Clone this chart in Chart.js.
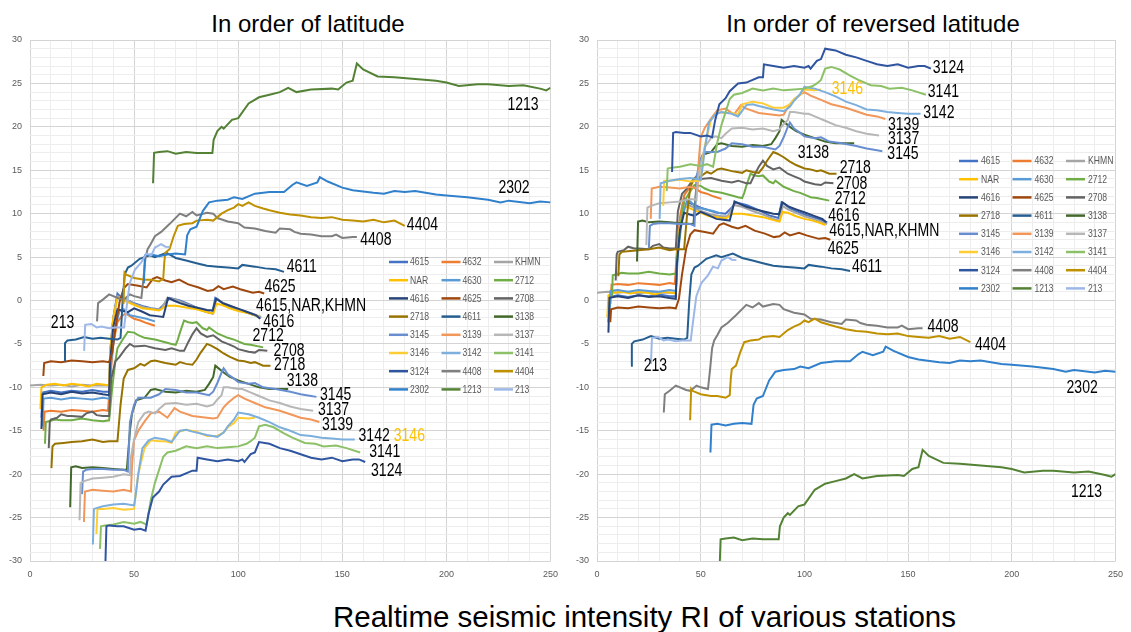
<!DOCTYPE html>
<html><head><meta charset="utf-8">
<script src="https://cdn.jsdelivr.net/npm/chart.js@4.4.1/dist/chart.umd.min.js"></script>
<style>
html,body{margin:0;padding:0;background:#fff;width:1131px;height:632px;overflow:hidden;position:relative;}
canvas{position:absolute;top:0;}
#c1{left:0;}
#c2{left:566px;}
.ttl{position:absolute;font-family:"Liberation Sans",Arial,sans-serif;color:#000;white-space:nowrap;}
</style></head><body>
<div class="ttl" style="left:158px;top:12px;width:300px;text-align:center;font-size:24px;line-height:24px;">In order of latitude</div>
<div class="ttl" style="left:673px;top:12px;width:400px;text-align:center;font-size:24px;line-height:24px;">In order of reversed latitude</div>
<div class="ttl" style="left:333px;top:602px;font-size:29.5px;line-height:29px;">Realtime seismic intensity RI of various stations</div>
<canvas id="c1" width="566" height="590"></canvas>
<canvas id="c2" width="565" height="590"></canvas>
<script>
// ---- station names (legend order) ----
const stations = ['4615','4632','KHMN','NAR','4630','2712','4616','4625','2708','2718','4611','3138','3145','3139','3137','3146','3142','3141','3124','4408','4404','2302','1213','213'];

// ---- time (x) values and RI values: L = latitude order chart, R = reversed latitude chart ----
const t4615 = [5.5,6,10,15,20,25,30,35,38,38.5,40,42,44,47,50,55,58,62,65,67,72,78,83,87.5,89,90.5,93,97,100,104,108,111];
const L4615 = [-13.5,-10.6,-10.4,-10.6,-10.4,-10.5,-10.3,-10.5,-10.5,-6,-2,0.8,0.3,0,-0.3,-0.7,-0.9,-1.0,-0.3,0.3,0.0,-0.6,-1.2,-1.5,0.3,0.1,-0.4,-0.8,-1.1,-1.4,-1.7,-2.0];
const R4615 = [-2.5,0.4,0.6,0.4,0.6,0.5,0.7,0.5,0.5,5.0,9.0,11.8,11.3,11.0,10.7,10.3,10.1,10.0,10.7,11.3,11.0,10.4,9.8,9.5,11.3,11.1,10.6,10.2,9.9,9.6,9.3,9.0];

const t4632 = [6.5,7,10,15,20,25,30,35,37.5,38.5,40,42,44,46,48,50,53,56,60];
const L4632 = [-15.0,-12.8,-12.7,-12.8,-12.6,-12.7,-12.8,-12.6,-12.7,-9.0,-5.0,-2.5,-1.8,-1.5,-1.8,-2.1,-2.3,-2.6,-2.9];
const R4632 = [-0.4,1.8,1.9,1.8,2.0,1.9,1.8,2.0,1.9,5.6,9.6,12.1,12.8,13.1,12.8,12.5,12.3,12.0,11.7];

const tKHMN = [0,5,10,15,20,25,30,35,38,38.5,40,42,44,47,50,55,60,63,66,70,75,80,85,88,89.5,92,96,100,104,108,111];
const LKHMN = [-9.8,-9.7,-9.8,-9.7,-9.9,-9.7,-9.8,-9.8,-9.8,-6.0,-2.0,0.5,0.3,0.0,-0.4,-0.8,-1.0,-1.0,0.3,0.1,-0.4,-0.8,-1.3,-1.5,0.2,-0.2,-0.6,-1.0,-1.3,-1.6,-1.9];
const RKHMN = [0.9,1.0,0.9,1.0,0.8,1.0,0.9,0.9,0.9,4.7,8.7,11.2,11.0,10.7,10.3,9.9,9.7,9.7,11.0,10.8,10.3,9.9,9.4,9.2,10.9,10.5,10.1,9.7,9.4,9.1,8.8];

const tNAR = [5,5.5,8,12,16,20,24,28,32,36,38,38.5,40,42,44,46,48,51,54,58,62,65.5,70,75,80,86,88,89.5,92,96,100,104,108,110];
const LNAR = [-12.5,-10.0,-9.7,-9.6,-9.8,-9.6,-9.7,-9.9,-9.6,-9.7,-9.8,-6.0,-2.0,0.3,0.1,-0.1,-0.3,-0.6,-0.9,-1.0,-1.15,-0.6,-0.6,-0.8,-1.0,-1.4,-1.5,-0.4,-0.5,-0.9,-1.2,-1.4,-1.7,-1.9];
const RNAR = [-1.9,0.6,0.9,1.0,0.8,1.0,0.9,0.7,1.0,0.9,0.8,4.6,8.6,10.9,10.7,10.5,10.3,10.0,9.7,9.6,9.45,10.0,10.0,9.8,9.6,9.2,9.1,10.2,10.1,9.7,9.4,9.2,8.9,8.7];

const t4630 = [6,6.5,10,15,20,25,30,35,38,39,41,43,45,48,52,56,60];
const L4630 = [-14.5,-11.3,-11.2,-11.4,-11.2,-11.3,-11.4,-11.2,-11.3,-7.0,-3.0,-1.2,-1.0,-1.7,-1.9,-2.1,-2.4];
const R4630 = [-2.1,1.1,1.2,1.0,1.2,1.1,1.0,1.2,1.1,5.4,9.4,11.2,11.4,10.7,10.5,10.3,10.0];

const t2712 = [7.2,7.6,9,12,15,20,25,30,35,38,39.5,41,42,44,47,50,52,55,60,65,68,70,71,72,74,76,78,80,83,85,86,90,95,98,100,103,106,112];
const L2712 = [-16.5,-14.0,-13.9,-13.7,-13.8,-13.8,-13.6,-13.8,-13.9,-13.8,-10.0,-7.0,-5.5,-4.7,-3.6,-3.7,-4.0,-4.3,-4.5,-4.8,-5.0,-5.1,-4.5,-3.7,-2.3,-2.5,-2.6,-2.5,-3.2,-3.4,-3.1,-3.8,-4.3,-4.5,-4.7,-5.0,-5.1,-5.4];
const R2712 = [0.4,2.9,3.0,3.2,3.1,3.1,3.3,3.1,3.0,3.1,6.9,9.9,11.4,12.2,13.3,13.2,12.9,12.6,12.4,12.1,11.9,11.8,12.4,13.2,14.6,14.4,14.3,14.4,13.7,13.5,13.8,13.1,12.6,12.4,12.2,11.9,11.8,11.5];

const t4616 = [5.5,6,10,15,20,25,30,35,38,38.5,40,42,44.7,47,50,54,57.5,61,64,66.3,69,72,76,81.5,85,87.8,89.4,92.6,96,100.6,104,108.6,110.5];
const L4616 = [-14.8,-10.8,-10.6,-10.8,-10.5,-10.7,-10.6,-10.8,-10.9,-7.0,-3.0,-1.0,-1.2,-1.35,-0.9,-1.3,-1.7,-1.8,-1.9,0.3,0.0,-0.3,-0.6,-0.9,-1.1,-1.15,0.2,-0.3,-0.6,-1.0,-1.3,-1.7,-2.1];
const R4616 = [-3.7,0.3,0.5,0.3,0.6,0.4,0.5,0.3,0.2,4.1,8.1,10.1,9.9,9.75,10.2,9.8,9.4,9.3,9.2,11.4,11.1,10.8,10.5,10.2,10.0,9.95,11.3,10.8,10.5,10.1,9.8,9.4,9.0];

const t4625 = [6.4,6.8,10,15,20,25,30,35,38,39.5,41,43,45,47,52,56,59,61,65,68,71.6,76,81,85.3,88,90.5,93,97.4,101,104,107,110,112.5];
const L4625 = [-8.7,-7.2,-7.0,-7.1,-6.9,-7.0,-7.1,-7.0,-7.1,-6.0,-3.2,-0.2,1.4,1.9,1.7,1.5,2.5,2.7,2.3,2.1,2.4,1.85,1.5,1.1,1.2,1.65,1.3,1.6,1.3,1.1,0.9,1.0,0.8];
const R4625 = [-2.5,-1.0,-0.8,-0.9,-0.7,-0.8,-0.9,-0.8,-0.9,0.2,3.0,6.0,7.6,8.1,7.9,7.7,8.7,8.9,8.5,8.3,8.6,8.05,7.7,7.3,7.4,7.85,7.5,7.8,7.5,7.3,7.1,7.2,7.0];

const t2708 = [9,9.5,10,13,15,18,20,25,27,30,32,35,38,39,41,43,46,48,50,55,60,65,68,72,74,76,78,80,82,85,88,92,95,98,100,105,108,110,114];
const L2708 = [-17.0,-14.0,-13.7,-13.5,-13.1,-13.3,-13.3,-13.4,-13.0,-12.8,-13.2,-13.3,-13.3,-9.0,-7.0,-6.5,-5.5,-5.0,-5.3,-5.2,-5.5,-5.7,-5.5,-5.8,-5.8,-4.8,-3.9,-3.2,-3.8,-4.2,-4.0,-4.7,-5.0,-5.3,-5.6,-5.9,-6.0,-5.7,-5.8];
const R2708 = [2.3,5.3,5.6,5.8,6.2,6.0,6.0,5.9,6.3,6.5,6.1,6.0,6.0,10.3,12.3,12.8,13.8,14.3,14.0,14.1,13.8,13.6,13.8,13.5,13.5,14.5,15.4,16.1,15.5,15.1,15.3,14.6,14.3,14.0,13.7,13.4,13.3,13.6,13.5];

const t2718 = [10.3,10.8,12,16,20,25,30,35,38,42,43.5,45,47,50,53,55,58,60,65,70,72,75,78,80,82,85,87,90,93,96,100,103,106,108,112,115.5];
const L2718 = [-19.3,-16.8,-16.5,-16.4,-16.3,-16.2,-16.0,-16.3,-16.2,-16.2,-12.0,-9.0,-8.0,-7.8,-7.3,-7.5,-7.0,-6.9,-7.2,-7.4,-7.1,-7.3,-7.4,-6.8,-6.0,-5.0,-5.2,-5.6,-6.1,-6.5,-6.9,-7.0,-7.2,-7.1,-7.5,-7.5];
const R2718 = [2.8,5.3,5.6,5.7,5.8,5.9,6.1,5.8,5.9,5.9,10.1,13.1,14.1,14.3,14.8,14.6,15.1,15.2,14.9,14.7,15.0,14.8,14.7,15.3,16.1,17.1,16.9,16.5,16.0,15.6,15.2,15.1,14.9,15.0,14.6,14.6];

const t4611 = [16.4,16.8,18,22,26,30,34,38,42,43.5,44.5,45.5,47,48.7,52.7,57.5,60,65.5,70,75,80,85,90,95,100,102,108,113,118,122];
const L4611 = [-6.9,-4.9,-4.6,-4.5,-4.2,-4.4,-4.3,-4.4,-4.5,-4.3,0.0,3.0,3.8,4.0,4.8,5.2,5.0,5.5,4.9,4.6,4.3,4.0,3.9,3.8,3.7,4.1,3.9,3.7,3.6,3.3];
const R4611 = [-7.5,-5.0,-4.7,-4.5,-4.1,-4.4,-4.3,-4.4,-4.5,-4.3,0.0,3.0,3.8,4.0,4.8,5.2,5.0,5.4,4.9,4.6,4.3,4.0,3.9,3.8,3.7,4.1,3.9,3.7,3.6,3.4];

const t3138 = [19.3,19.8,22,25,30,35,40,45,46.5,48,49,51,55,58,60,65,70,75,80,84,86,88,89,90,93,96,100,105,110,115,120,124];
const L3138 = [-23.8,-19.2,-19.1,-19.3,-19.2,-19.3,-19.4,-19.5,-19.5,-15.0,-13.0,-11.5,-11.2,-10.3,-10.2,-10.5,-10.6,-10.4,-10.5,-10.3,-9.6,-8.8,-7.5,-7.7,-8.3,-8.8,-9.2,-9.6,-10.0,-10.2,-10.2,-10.2];
const R3138 = [4.5,9.1,9.2,9.0,9.1,9.0,8.9,8.8,8.8,13.3,15.3,16.8,17.1,18.0,18.1,17.8,17.7,17.9,17.8,18.0,18.7,19.5,20.8,20.6,20.0,19.5,19.1,18.7,18.3,18.1,18.1,18.1];

const t3145 = [25,25.5,27,30,35,40,45,47,47.5,48,50,52,55,58,62,65,70,75,80,86,88,90,92,93,95,98,100,105,108,112,118,125,130,135,137.6];
const L3145 = [-22.3,-19.7,-19.5,-19.4,-19.4,-19.5,-19.5,-19.7,-17.0,-14.0,-12.0,-11.2,-11.2,-11.2,-10.8,-10.2,-10.3,-10.6,-10.6,-10.9,-10.5,-9.5,-8.3,-7.8,-8.5,-9.0,-9.4,-9.6,-9.5,-10.0,-10.2,-10.5,-10.8,-11.0,-11.1];
const R3145 = [6.0,8.6,8.8,8.9,8.9,8.8,8.8,8.6,11.3,14.3,16.3,17.1,17.1,17.1,17.5,18.1,18.0,17.7,17.7,17.4,17.8,18.8,20.0,20.5,19.8,19.3,18.9,18.7,18.8,18.3,18.1,17.8,17.5,17.3,17.2];

const t3139 = [25.9,26.4,30,35,40,45,48.5,49,50,52,55.4,58,62,66,69.4,72,78,85,88,90,93,95,98,100,103,108,113,120,125,130,135,139];
const L3139 = [-25.5,-22.0,-21.8,-21.9,-22.0,-21.8,-22.0,-19.0,-16.1,-15.0,-13.8,-13.0,-12.8,-13.5,-12.4,-12.8,-13.3,-13.5,-13.6,-13.5,-12.3,-11.8,-11.2,-10.9,-11.3,-11.8,-12.3,-12.7,-13.1,-13.5,-13.7,-14.0];
const R3139 = [9.4,12.9,13.1,13.0,12.9,13.1,12.9,15.9,18.8,19.9,21.1,21.9,22.1,21.4,22.5,22.1,21.6,21.4,21.3,21.4,22.6,23.1,23.7,24.0,23.6,23.1,22.6,22.2,21.8,21.4,21.2,20.9];

const t3137 = [23.8,24.3,26,30,35,40,45,48,48.5,50,52,55,57,60,62,65,70,75,80,85,88,90,92,93,95,100,102,105,110,115,120,125,130,136];
const L3137 = [-25.3,-21.0,-20.8,-20.5,-20.4,-20.3,-20.0,-20.1,-18.0,-16.0,-14.0,-13.0,-12.8,-13.0,-12.5,-11.9,-11.8,-12.0,-11.9,-12.2,-12.0,-11.4,-10.9,-10.0,-10.0,-10.2,-10.2,-10.5,-11.0,-11.5,-11.8,-12.2,-12.5,-12.7];
const R3137 = [6.4,10.7,10.9,11.2,11.3,11.4,11.7,11.6,13.7,15.7,17.7,18.7,18.9,18.7,19.2,19.8,19.9,19.7,19.8,19.5,19.7,20.3,20.8,21.7,21.7,21.5,21.5,21.2,20.7,20.2,19.9,19.5,19.2,19.0];

const t3146 = [31.9,32.4,35,40,45,50,50.9,52,55,58,62,65,68,70,75,80,85,90,93,95,98,100,105,108];
const L3146 = [-26.9,-24.0,-24.0,-23.9,-24.1,-24.0,-22.0,-20.0,-17.0,-16.1,-16.2,-16.2,-16.4,-15.2,-14.9,-15.1,-15.6,-15.6,-15.2,-14.6,-14.1,-13.5,-13.6,-13.5];
const R3146 = [10.9,13.8,13.8,13.9,13.7,13.8,15.8,17.8,20.8,21.7,21.6,21.6,21.4,22.6,22.9,22.7,22.2,22.2,22.6,23.2,23.7,24.3,24.2,24.3];

const t3142 = [30.2,30.7,35,40,45,50,51,52,54,57,60,65,68,72,75,78,85,90,93,95,98,100,105,110,115,120,125,130,135,140,145,150,156];
const L3142 = [-28.1,-24.0,-23.7,-23.5,-23.4,-23.6,-22.0,-20.0,-17.0,-16.1,-15.8,-16.0,-16.3,-15.0,-14.9,-15.1,-15.5,-15.7,-15.2,-14.5,-13.7,-12.9,-13.1,-13.5,-14.0,-14.6,-15.0,-15.5,-15.6,-15.8,-15.9,-16.0,-16.0];
const R3142 = [9.4,13.5,13.8,14.0,14.1,13.9,15.5,17.5,20.5,21.4,21.7,21.5,21.2,22.5,22.6,22.4,22.0,21.8,22.3,23.0,23.8,24.6,24.4,24.0,23.5,22.9,22.5,22.0,21.9,21.7,21.6,21.5,21.5];

const t3141 = [33.6,34.1,36,40,45,50,53,56,58,60,62,64,66,70,75,80,85,90,95,100,104,106,108,110,113,117,122,126,132,137,141,147,152,158.6];
const L3141 = [-28.6,-26.0,-25.9,-25.8,-25.5,-25.7,-25.5,-25.8,-23.0,-21.0,-19.5,-18.0,-17.5,-17.3,-16.8,-17.0,-16.8,-17.0,-16.9,-16.8,-16.5,-16.2,-15.8,-14.5,-14.3,-14.6,-15.3,-15.8,-16.4,-16.5,-16.8,-16.7,-17.0,-17.5];
const R3141 = [12.6,15.2,15.3,15.4,15.7,15.5,15.7,15.4,18.2,20.2,21.7,23.2,23.7,23.9,24.4,24.2,24.4,24.2,24.3,24.4,24.7,25.0,25.4,26.7,26.9,26.6,25.9,25.4,24.8,24.7,24.4,24.5,24.2,23.7];

const t3124 = [36.2,36.7,38,42,45,50,53,55.5,57,59,62,64,68,72,78,80,80.5,85,90,95,100,102,103,106,108,110,115,120,125,130,135,140,145,150,155,158,161];
const L3124 = [-30.5,-26.0,-25.9,-26.0,-26.0,-26.4,-26.3,-26.5,-24.5,-22.7,-22.0,-21.2,-20.3,-20.2,-19.6,-19.6,-18.1,-18.3,-18.5,-18.3,-18.5,-18.3,-18.6,-17.7,-17.5,-16.3,-16.5,-17.0,-17.3,-17.7,-18.1,-18.3,-18.1,-18.5,-18.3,-18.3,-18.6];
const R3124 = [14.8,19.3,19.4,19.3,19.3,18.9,19.0,18.8,20.8,22.6,23.3,24.1,25.0,25.1,25.7,25.7,27.2,27.0,26.8,27.0,26.8,27.0,26.7,27.6,27.8,29.0,28.8,28.3,28.0,27.6,27.2,27.0,27.2,26.8,27.0,27.0,26.7];

const t4408 = [32.2,32.7,35,38,43,45,48,50,53.5,54.5,55.5,56.5,58,60,63,67,72,75,78,80,85,88,90,95,100,103,108,113,118,120,125,127,130,135,140,145,147,150,155,157];
const L4408 = [-2.4,-0.3,0.1,0.7,0.2,0.1,0.7,0.5,0.3,2.5,5.0,5.9,6.5,7.4,7.9,8.8,10.0,9.7,10.2,9.8,10.1,10.0,9.5,9.1,8.9,8.4,8.3,8.0,7.8,8.3,8.2,7.9,7.7,7.6,7.4,7.4,7.6,7.2,7.3,7.3];
const R4408 = [-12.9,-10.8,-10.4,-9.8,-10.3,-10.4,-9.8,-10.0,-10.2,-8.0,-5.5,-4.6,-4.0,-3.1,-2.6,-1.7,-0.5,-0.8,-0.3,-0.7,-0.4,-0.5,-1.0,-1.4,-1.6,-2.1,-2.2,-2.5,-2.7,-2.2,-2.3,-2.6,-2.8,-2.9,-3.1,-3.1,-2.9,-3.3,-3.2,-3.2];

const t4404 = [44.9,45.4,46,50,55,58,62,64,64.5,65,67,69,71,74,78,80,85,88,92,95,98,100,102,105,108,112,115,120,125,130,135,140,145,150,155,160,165,170,175,180];
const L4404 = [-0.4,3.2,3.0,2.6,2.4,2.4,2.2,2.5,4.4,5.5,5.9,7.4,8.6,8.8,8.9,9.2,9.3,9.2,10.0,10.4,10.7,11.1,10.9,11.3,10.9,10.6,10.4,10.1,9.9,9.8,9.6,9.5,9.6,9.3,9.2,9.1,9.3,9.0,9.2,8.6];
const R4404 = [-13.8,-10.2,-10.4,-10.8,-11.0,-11.0,-11.2,-10.9,-9.0,-7.9,-7.5,-6.0,-4.8,-4.6,-4.5,-4.2,-4.1,-4.2,-3.4,-3.0,-2.7,-2.3,-2.5,-2.1,-2.5,-2.8,-3.0,-3.3,-3.5,-3.6,-3.8,-3.9,-3.8,-4.1,-4.2,-4.3,-4.1,-4.4,-4.2,-4.8];

const t2302 = [54.7,55.2,58,62,66,70,74.5,75.5,77,80,83,86,90,95,98,102,108,115,122,126,128,133,138,139.2,143,150,155,165,170,175,180,185,195,200,210,220,226,230,240,245,250];
const L2302 = [2.0,5.2,5.3,5.1,5.3,5.4,5.3,7.5,8.2,8.5,10.3,11.3,11.5,11.6,11.9,11.7,12.3,12.5,12.5,13.3,13.6,13.2,13.6,14.2,13.7,13.0,12.7,12.4,12.3,12.6,12.5,12.6,12.2,12.1,11.9,11.6,11.3,11.5,11.2,11.4,11.3];
const R2302 = [-17.5,-14.3,-14.2,-14.4,-14.2,-14.1,-14.2,-12.0,-11.3,-11.0,-9.2,-8.2,-8.0,-7.9,-7.6,-7.8,-7.2,-7.0,-7.0,-6.2,-5.9,-6.3,-5.9,-5.3,-5.8,-6.5,-6.8,-7.1,-7.2,-6.9,-7.0,-6.9,-7.3,-7.4,-7.6,-7.9,-8.2,-8.0,-8.3,-8.1,-8.2];

const t1213 = [59.1,59.6,62,66,70,75,80,85,87.6,88.2,90,92,93,97,100,105,110,115,120,124,128,135,145,148,152,155,157,160,167,175,185,195,200,206,215,220,230,237,245,248,250];
const L1213 = [13.5,17.0,17.1,17.2,16.9,17.1,17.0,17.0,17.0,18.5,19.5,20.0,19.8,20.8,21.0,22.7,23.4,23.7,24.0,24.5,24.0,24.3,24.4,24.3,25.1,25.3,27.3,26.6,25.8,25.7,25.5,25.3,25.1,24.7,24.9,24.9,24.7,24.8,24.4,24.2,24.5];
const R1213 = [-31.0,-27.5,-27.4,-27.3,-27.6,-27.4,-27.5,-27.5,-27.5,-26.0,-25.0,-24.5,-24.7,-23.7,-23.5,-21.8,-21.1,-20.8,-20.5,-20.0,-20.5,-20.2,-20.1,-20.2,-19.4,-19.2,-17.2,-17.9,-18.7,-18.8,-19.0,-19.2,-19.4,-19.8,-19.6,-19.6,-19.8,-19.7,-20.1,-20.3,-20.0];

const t213 = [26,26.5,29.5,32,34.3,38,41,45.2,46,47.9,50.3,53.5,55.9,58.3,60,61.5,63,65,67.2];
const L213 = [-5.8,-2.8,-2.7,-3.1,-3.0,-3.2,-3.1,-3.1,-1.5,2.0,3.5,4.4,5.4,5.2,6.1,6.3,6.5,6.2,6.15];
const R213 = [-7.3,-4.3,-4.2,-4.6,-4.5,-4.7,-4.6,-4.6,-3.0,0.5,2.0,2.9,3.9,3.7,4.6,4.8,5.0,4.7,4.65];

// ---- axis tick settings ----
const yMin = -30, yMax = 30, yStep = 1, yLabelEvery = 5;
const xMin = 0, xMax = 250, xStep = 10, xLabelEvery = 50;

// ---- station name annotations [text, x, y] ----
const leftNotes = [['1213',229.3,22.5],['2302',225,13.0],['4404',181,8.7],['4408',158.6,7.0],['4611',123.3,3.9],['4625',112.6,1.6],['4615,NAR,KHMN',108.6,-0.6],['4616',112,-2.5],['2712',106.9,-4.1],['2708',116.9,-5.8],['2718',117.2,-7.4],['3138',123.3,-9.25],['3145',139.3,-10.9],['3137',138.3,-12.6],['3139',140.2,-14.3],['3142',157.8,-15.6],['3146',174.7,-15.6],['3141',162.9,-17.5],['3124',163.8,-19.6],['213',10,-2.6]];
const rightNotes = [['3124',161.9,26.8],['3141',159.5,24.0],['3146',113.2,24.4],['3142',157.3,21.6],['3139',140.3,20.2],['3137',140.3,18.6],['3145',140,16.9],['3138',96.8,17.0],['2718',117,15.2],['2708',115.3,13.4],['2712',114.6,11.65],['4616',111.5,9.7],['4615,NAR,KHMN',112,8.0],['4625',111.2,5.9],['4611',122.9,3.9],['4408',159.3,-3.0],['4404',182.2,-5.1],['2302',226.4,-10.1],['213',22.5,-7.6],['1213',228.5,-22.1]];

const times = [t4615,t4632,tKHMN,tNAR,t4630,t2712,t4616,t4625,t2708,t2718,t4611,t3138,t3145,t3139,t3137,t3146,t3142,t3141,t3124,t4408,t4404,t2302,t1213,t213];
const leftVals = [L4615,L4632,LKHMN,LNAR,L4630,L2712,L4616,L4625,L2708,L2718,L4611,L3138,L3145,L3139,L3137,L3146,L3142,L3141,L3124,L4408,L4404,L2302,L1213,L213];
const rightVals = [R4615,R4632,RKHMN,RNAR,R4630,R2712,R4616,R4625,R2708,R2718,R4611,R3138,R3145,R3139,R3137,R3146,R3142,R3141,R3124,R4408,R4404,R2302,R1213,R213];

const colors = ['#4472C4','#ED7D31','#A5A5A5','#FFC000','#5B9BD5','#70AD47','#264478','#9E480E','#636363','#997300','#255E91','#43682B','#698ED0','#F1975A','#B7B7B7','#FFCD33','#7CAFDD','#8CC168','#2F55A0','#7F7F7F','#BF9000','#3080CC','#548235','#9DB8E8'];

const SANS = '"Liberation Sans",Arial,sans-serif';

// draw horizontally condensed text (the original uses a narrow font)
function narrowText(ctx, txt, x, y, sx) {
  ctx.save();
  ctx.translate(x, y);
  ctx.scale(sx, 1);
  ctx.fillText(txt, 0, 0);
  ctx.restore();
}

const notesPlugin = {
  id: 'stationNotes',
  afterDatasetsDraw(chart, args, opts) {
    const ctx = chart.ctx, xs = chart.scales.x, ys = chart.scales.y;
    ctx.save();
    ctx.font = '18px ' + SANS;
    ctx.textBaseline = 'middle';
    ctx.textAlign = 'left';
    for (const [txt, x, y] of opts.items) {
      ctx.fillStyle = (txt === '3146') ? '#FFC000' : '#000000';
      narrowText(ctx, txt, xs.getPixelForValue(x), ys.getPixelForValue(y), 0.78);
    }
    ctx.restore();
  }
};

const legendPlugin = {
  id: 'gridLegend',
  afterDatasetsDraw(chart, args, opts) {
    const ctx = chart.ctx;
    ctx.save();
    ctx.font = '10.5px ' + SANS;
    ctx.textBaseline = 'middle';
    ctx.textAlign = 'left';
    chart.data.datasets.forEach((ds, i) => {
      const col = i % 3, row = Math.floor(i / 3);
      const x0 = opts.x + col * opts.colW, y0 = opts.y + row * opts.rowH;
      ctx.strokeStyle = ds.borderColor;
      ctx.lineWidth = 2.5;
      ctx.beginPath(); ctx.moveTo(x0, y0); ctx.lineTo(x0 + 19, y0); ctx.stroke();
      ctx.fillStyle = '#595959';
      narrowText(ctx, ds.label, x0 + opts.textOff, y0 + 0.5, 0.82);
    });
    ctx.restore();
  }
};

function makeChart(canvasId, vals, notes, leftW, rightPad, legendOpts) {
  const datasets = stations.map((name, i) => ({
    label: name,
    data: times[i].map((x, k) => ({x: x, y: vals[i][k]})),
    borderColor: colors[i],
    backgroundColor: colors[i],
    borderWidth: 2,
    pointRadius: 0,
    fill: false,
    tension: 0,
    order: -i
  }));
  return new Chart(document.getElementById(canvasId), {
    type: 'line',
    data: { datasets },
    plugins: [notesPlugin, legendPlugin],
    options: {
      responsive: false,
      animation: false,
      events: [],
      layout: { padding: { left: 0, right: rightPad, top: 40, bottom: 9 } },
      plugins: {
        legend: { display: false },
        tooltip: { enabled: false },
        title: { display: false },
        stationNotes: { items: notes },
        gridLegend: legendOpts
      },
      scales: {
        x: {
          type: 'linear', min: xMin, max: xMax,
          afterFit(s) { s.height = 20; },
          border: { display: false },
          grid: { drawTicks: false, lineWidth: 1,
                  color: c => (c.tick && c.tick.value % xLabelEvery === 0) ? '#d4d4d4' : '#ededed' },
          ticks: { stepSize: xStep, autoSkip: false, maxRotation: 0, padding: 8, color: '#595959',
                   font: { family: SANS, size: 9 },
                   callback: v => (v % xLabelEvery === 0) ? String(v) : '' }
        },
        y: {
          type: 'linear', min: yMin, max: yMax,
          afterFit(s) { s.width = leftW; },
          border: { display: false },
          grid: { drawTicks: false, lineWidth: 1,
                  color: c => (c.tick && c.tick.value % yLabelEvery === 0) ? '#d4d4d4' : '#ededed' },
          ticks: { stepSize: yStep, autoSkip: false, padding: 8, color: '#595959',
                   font: { family: SANS, size: 9 },
                   callback: v => (v % yLabelEvery === 0) ? String(v) : '' }
        }
      }
    }
  });
}

makeChart('c1', leftVals, leftNotes, 30, 14, { x: 389, y: 262, colW: 52.5, rowH: 18.2, textOff: 21 });
makeChart('c2', rightVals, rightNotes, 31, 9, { x: 393, y: 161, colW: 53.5, rowH: 18.2, textOff: 22 });
</script>
</body></html>
